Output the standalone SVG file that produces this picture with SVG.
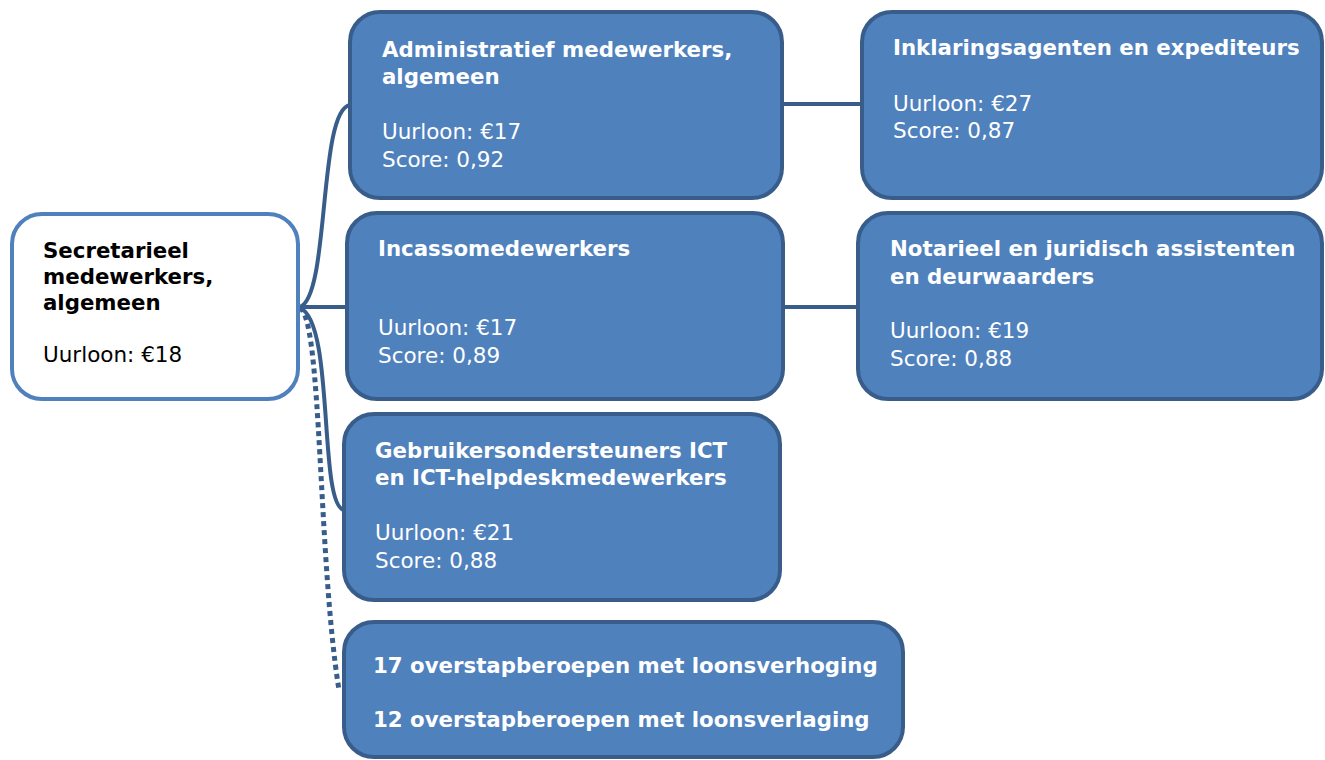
<svg xmlns="http://www.w3.org/2000/svg" width="1325" height="760" viewBox="0 0 1325 760">
<style>
.box{fill:#4f81bd;stroke:#385d8a;stroke-width:4}
.root{fill:#ffffff;stroke:#4f81bd;stroke-width:4}
.t{font-family:"DejaVu Sans","Verdana",sans-serif;font-size:21.5px;fill:#ffffff}
.b{font-weight:bold;font-size:21.3px}
.k{fill:#000000}
.c{fill:none;stroke:#385d8a;stroke-width:4}
.d{fill:none;stroke:#385d8a;stroke-width:5;stroke-dasharray:5 4}
</style>
<rect width="1325" height="760" fill="#ffffff"/>
<g id="connectors">
<path class="c" d="M300,307 C330,296 318,110 350,105"/>
<path class="c" d="M300,307 L347,307"/>
<path class="c" d="M300,308 C335,322 318,505 344,510"/>
<path class="d" d="M300,308 C322,320 318,560 339,690"/>
<path class="c" d="M782,104 L862,104"/>
<path class="c" d="M783,307 L858,307"/>
</g>
<g id="root">
<rect class="root" x="12" y="214" width="286" height="185" rx="30"/>
<text class="t b k" x="43" y="258">Secretarieel</text>
<text class="t b k" x="43" y="284">medewerkers,</text>
<text class="t b k" x="43" y="310">algemeen</text>
<text class="t k" x="43" y="362">Uurloon: €18</text>
</g>
<g id="administratief">
<rect class="box" x="350" y="12" width="432" height="186" rx="30"/>
<text class="t b" x="382" y="57">Administratief medewerkers,</text>
<text class="t b" x="382" y="84">algemeen</text>
<text class="t" x="382" y="139">Uurloon: €17</text>
<text class="t" x="382" y="167">Score: 0,92</text>
</g>
<g id="inklaring">
<rect class="box" x="862" y="12" width="460" height="186" rx="30"/>
<text class="t b" x="893" y="55">Inklaringsagenten en expediteurs</text>
<text class="t" x="893" y="111">Uurloon: €27</text>
<text class="t" x="893" y="138">Score: 0,87</text>
</g>
<g id="incasso">
<rect class="box" x="347" y="213" width="436" height="186" rx="30"/>
<text class="t b" x="378" y="256">Incassomedewerkers</text>
<text class="t" x="378" y="335">Uurloon: €17</text>
<text class="t" x="378" y="363">Score: 0,89</text>
</g>
<g id="notarieel">
<rect class="box" x="858" y="213" width="464" height="186" rx="30"/>
<text class="t b" x="890" y="256">Notarieel en juridisch assistenten</text>
<text class="t b" x="890" y="284">en deurwaarders</text>
<text class="t" x="890" y="338">Uurloon: €19</text>
<text class="t" x="890" y="366">Score: 0,88</text>
</g>
<g id="gebruikers">
<rect class="box" x="344" y="414" width="436" height="186" rx="30"/>
<text class="t b" x="375" y="458">Gebruikersondersteuners ICT</text>
<text class="t b" x="375" y="485">en ICT-helpdeskmedewerkers</text>
<text class="t" x="375" y="540">Uurloon: €21</text>
<text class="t" x="375" y="568">Score: 0,88</text>
</g>
<g id="overstap">
<rect class="box" x="344" y="622" width="559" height="135" rx="30"/>
<text class="t b" x="373" y="673">17 overstapberoepen met loonsverhoging</text>
<text class="t b" x="373" y="727">12 overstapberoepen met loonsverlaging</text>
</g>
</svg>
